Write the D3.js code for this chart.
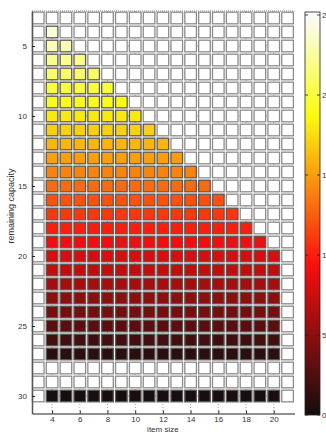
<!DOCTYPE html>
<html>
<head>
<meta charset="utf-8">
<script src="https://cdn.jsdelivr.net/npm/d3@7"></script>
<style>
  html, body { margin: 0; padding: 0; background: #fff; }
  svg { display: block; }
  text { font-family: "Liberation Sans", Arial, sans-serif; fill: #333; }
</style>
</head>
<body>
<svg id="chart" width="326" height="433"></svg>
<script>
// ---- data ----
const itemSizes = [3,4,5,6,7,8,9,10,11,12,13,14,15,16,17,18,19,20,21];
const capacities = [3,4,5,6,7,8,9,10,11,12,13,14,15,16,17,18,19,20,21,22,23,24,25,26,27,28,29,30];
// colour value for the filled cells of each capacity row (null = row left empty)
const rowValues = [null,24,23,22,21,20,19,18,17,16,15,14,13,12,11,10,9,8,7,6,5,4,3,2,1,null,null,0.3];
// largest item size filled in each row (filled from itemSize 4 up to this value)
const rowMaxItem = [null,4,5,6,7,8,9,10,11,12,13,14,15,16,17,18,19,20,20,20,20,20,20,20,20,null,null,20];
const firstFilledItem = 4;
const xTicks = [4,6,8,10,12,14,16,18,20];
const yTicks = [5,10,15,20,25,30];
const cbTicks = [0,5,10,15,20,25];
const cbDomain = [0, 25];

// ---- build cells ----
const cells = [];
capacities.forEach((c, i) => {
  itemSizes.forEach(s => {
    const filled = rowValues[i] !== null && s >= firstFilledItem && s <= rowMaxItem[i];
    cells.push({ x: s, y: c, v: filled ? rowValues[i] : null });
  });
});

// ---- hot colormap (slightly softened like the print) ----
function hot(t) {
  t = Math.max(0, Math.min(1, t));
  const r = Math.min(1, t / 0.375);
  const g = Math.max(0, Math.min(1, (t - 0.375) / 0.375));
  const b = Math.max(0, Math.min(1, (t - 0.75) / 0.25));
  return `rgb(${Math.round(r * 232 + 18)},${Math.round(g * 238 + 14)},${Math.round(b * 240 + 14)})`;
}
const colorScale = v => hot((v - cbDomain[0]) / (cbDomain[1] - cbDomain[0]));

const svg = d3.select("#chart");

const x = d3.scaleLinear().domain([2.55, 21.5]).range([32, 294.5]);
const y = d3.scaleLinear().domain([2.5, 31.25]).range([11, 413.5]);

// gridlines (dotted)
const grid = svg.append("g");
grid.selectAll("line.vx").data(xTicks).join("line")
  .attr("x1", d => x(d)).attr("x2", d => x(d))
  .attr("y1", y(2.5)).attr("y2", y(31.25))
  .attr("stroke", "#888").attr("stroke-width", 0.8).attr("stroke-dasharray", "1,2");
grid.selectAll("line.hy").data(yTicks).join("line")
  .attr("x1", x(2.55)).attr("x2", x(21.5))
  .attr("y1", d => y(d)).attr("y2", d => y(d))
  .attr("stroke", "#888").attr("stroke-width", 0.8).attr("stroke-dasharray", "1,2");
// top dotted edge
svg.append("line").attr("x1", x(2.55)).attr("x2", x(21.5)).attr("y1", y(2.5)).attr("y2", y(2.5))
  .attr("stroke", "#666").attr("stroke-width", 0.8).attr("stroke-dasharray", "1,1");

// cells
const cw = 11.6, ch = 11.6;
svg.append("g").selectAll("rect").data(cells).join("rect")
  .attr("x", d => x(d.x) - cw / 2)
  .attr("y", d => y(d.y) - ch / 2)
  .attr("width", cw).attr("height", ch)
  .attr("fill", d => d.v === null ? "#fff" : colorScale(d.v))
  .attr("stroke", d => d.v === null ? "#8c8c8c" : "#5a5a5a")
  .attr("stroke-width", 1.3);

// axes
const xAxis = d3.axisBottom(x).tickValues(xTicks).tickSize(-3).tickSizeOuter(0).tickPadding(3);
const gx = svg.append("g").attr("transform", `translate(0,${y(31.25)})`).call(xAxis);
gx.select(".domain").attr("stroke", "#222").attr("stroke-width", 1);
gx.selectAll(".tick line").attr("stroke", "#222");
gx.selectAll(".tick text").attr("font-size", 8).attr("fill", "#333").attr("font-family", "Liberation Sans, Arial, sans-serif");

const yAxis = d3.axisLeft(y).tickValues(yTicks).tickSize(-3).tickSizeOuter(0).tickPadding(5);
const gy = svg.append("g").attr("transform", `translate(${x(2.55)},0)`).call(yAxis);
gy.select(".domain").attr("stroke", "#555").attr("stroke-width", 1.5);
gy.selectAll(".tick line").attr("stroke", "#222");
gy.selectAll(".tick text").attr("font-size", 8).attr("fill", "#333").attr("font-family", "Liberation Sans, Arial, sans-serif");

// axis labels
svg.append("text").attr("x", x(12)).attr("y", 432)
  .attr("text-anchor", "middle").attr("font-size", 8).attr("fill", "#333").text("item size");
svg.append("text").attr("transform", `translate(14,206) rotate(-90)`)
  .attr("text-anchor", "middle").attr("font-size", 9).attr("fill", "#333").text("remaining capacity");

// colorbar
const cb = d3.scaleLinear().domain(cbDomain).range([415, 15]);
const cbX = 305, cbW = 15, cbTop = 12;
const defs = svg.append("defs");
const grad = defs.append("linearGradient").attr("id", "cbgrad")
  .attr("x1", 0).attr("y1", 1).attr("x2", 0).attr("y2", 0);
d3.range(0, 1.0001, 0.02).forEach(t => {
  grad.append("stop").attr("offset", t).attr("stop-color", hot(t * (cb.invert(cbTop) - cbDomain[0]) / (cbDomain[1] - cbDomain[0])));
});
svg.append("rect").attr("x", cbX).attr("y", cbTop).attr("width", cbW).attr("height", cb(0) - cbTop)
  .attr("fill", "url(#cbgrad)").attr("stroke", "#222").attr("stroke-width", 0.8);
const cbt = svg.append("g");
cbt.selectAll("line.l").data(cbTicks).join("line")
  .attr("x1", cbX).attr("x2", cbX + 3).attr("y1", d => cb(d)).attr("y2", d => cb(d))
  .attr("stroke", "#222").attr("stroke-width", 0.8);
cbt.selectAll("line.r").data(cbTicks).join("line")
  .attr("x1", cbX + cbW - 3).attr("x2", cbX + cbW).attr("y1", d => cb(d)).attr("y2", d => cb(d))
  .attr("stroke", "#222").attr("stroke-width", 0.8);
cbt.selectAll("text").data(cbTicks).join("text")
  .attr("x", cbX + cbW + 2).attr("y", d => cb(d) + 3)
  .attr("font-size", 8).attr("fill", "#333").text(d => d);
</script>
</body>
</html>
